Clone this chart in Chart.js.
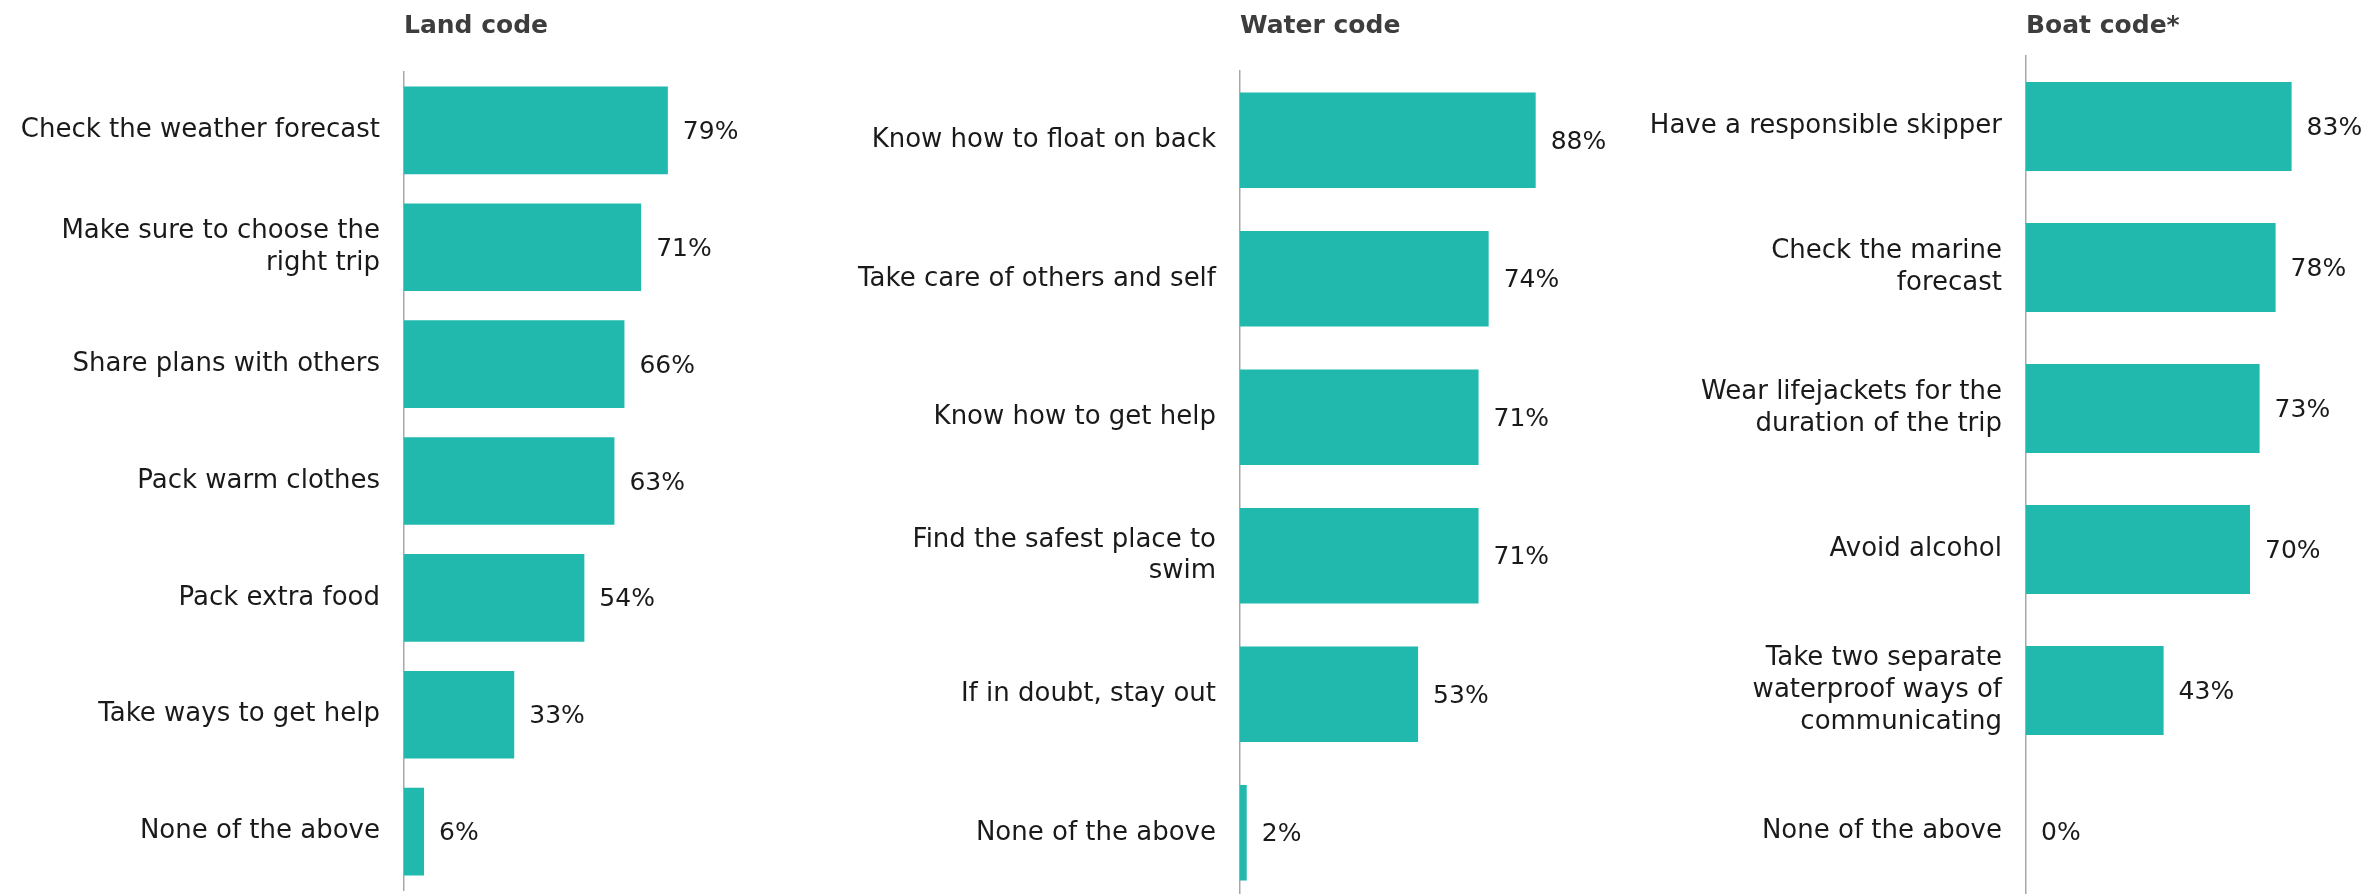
<!DOCTYPE html>
<html>
<head>
<meta charset="utf-8">
<title>Land, water and boat codes</title>
<script src="https://cdn.jsdelivr.net/npm/chart.js@4.4.1/dist/chart.umd.min.js"></script>
<style>
    html, body { margin: 0; padding: 0; background: #ffffff; }
    #wrap { position: relative; width: 2379px; height: 894px; overflow: hidden; }
    #wrap canvas { position: absolute; top: 0; }
</style>
</head>
<body>
<div id="wrap">
    <canvas id="landChart" width="760" height="894" style="left:0px"></canvas>
    <canvas id="waterChart" width="880" height="910" style="left:760px"></canvas>
    <canvas id="boatChart" width="759" height="910" style="left:1620px"></canvas>
</div>
<script>
// Land code
const landLabels = [
    'Check the weather forecast',
    ['Make sure to choose the', 'right trip'],
    'Share plans with others',
    'Pack warm clothes',
    'Pack extra food',
    'Take ways to get help',
    'None of the above'
];
const landValues = [79, 71, 66, 63, 54, 33, 6];

// Water code
const waterLabels = [
    'Know how to float on back',
    'Take care of others and self',
    'Know how to get help',
    ['Find the safest place to', 'swim'],
    'If in doubt, stay out',
    'None of the above'
];
const waterValues = [88, 74, 71, 71, 53, 2];

// Boat code
const boatLabels = [
    'Have a responsible skipper',
    ['Check the marine', 'forecast'],
    ['Wear lifejackets for the', 'duration of the trip'],
    'Avoid alcohol',
    ['Take two separate', 'waterproof ways of', 'communicating'],
    'None of the above'
];
const boatValues = [83, 78, 73, 70, 43, 0];

const barColor = '#21b9ae';
const textFont = '"DejaVu Sans", "Open Sans", sans-serif';

// Tulis persentase di ujung kanan setiap bar
const valueLabels = {
    id: 'valueLabels',
    afterDatasetsDraw(chart) {
        const ctx = chart.ctx;
        const meta = chart.getDatasetMeta(0);
        const data = chart.data.datasets[0].data;
        ctx.save();
        ctx.font = '25px ' + textFont;
        ctx.fillStyle = '#1a1a1a';
        ctx.textAlign = 'left';
        ctx.textBaseline = 'middle';
        meta.data.forEach(function (bar, i) {
            ctx.fillText(data[i] + '%', bar.x + 15, bar.y + 2);
        });
        ctx.restore();
    }
};

// Judul panel, rata kiri dengan garis sumbu
const panelTitle = {
    id: 'panelTitle',
    afterDraw(chart, args, opts) {
        const ctx = chart.ctx;
        ctx.save();
        ctx.font = 'bold 25px ' + textFont;
        ctx.fillStyle = '#3d3d3d';
        ctx.textAlign = 'left';
        ctx.textBaseline = 'alphabetic';
        ctx.fillText(opts.text, chart.chartArea.left, 33);
        ctx.restore();
    }
};

function drawChart(id, title, labels, values, axisWidth, padding, barPct) {
    const ctx = document.getElementById(id).getContext('2d');
    return new Chart(ctx, {
        type: 'bar',
        data: {
            labels: labels,
            datasets: [{
                data: values,
                backgroundColor: barColor,
                borderWidth: 0,
                barPercentage: barPct,
                categoryPercentage: 1
            }]
        },
        options: {
            indexAxis: 'y',
            responsive: false,
            animation: false,
            events: [],
            layout: { padding: padding },
            plugins: {
                legend: { display: false },
                tooltip: { enabled: false },
                panelTitle: { text: title }
            },
            scales: {
                x: {
                    display: false,
                    min: 0,
                    max: 100
                },
                y: {
                    grid: { display: false, drawTicks: false },
                    border: { display: true, color: '#a8a8a8', width: 1.5 },
                    afterFit: function (scale) {
                        scale.width = axisWidth;
                        // label di tengah kategori, tidak perlu ruang ekstra atas/bawah
                        scale.paddingTop = 0;
                        scale.paddingBottom = 0;
                    },
                    ticks: {
                        autoSkip: false,
                        padding: 24,
                        color: '#1a1a1a',
                        font: { family: textFont, size: 26, lineHeight: 1.23 }
                    }
                }
            }
        },
        plugins: [valueLabels, panelTitle]
    });
}

drawChart('landChart', 'Land code', landLabels, landValues, 404,
    { left: 0, right: 22, top: 72, bottom: 4 }, 0.75);
drawChart('waterChart', 'Water code', waterLabels, waterValues, 480,
    { left: 0, right: 64, top: 71, bottom: 8 }, 0.69);
drawChart('boatChart', 'Boat code*', boatLabels, boatValues, 406,
    { left: 0, right: 33, top: 56, bottom: 8 }, 0.63);
</script>
</body>
</html>
